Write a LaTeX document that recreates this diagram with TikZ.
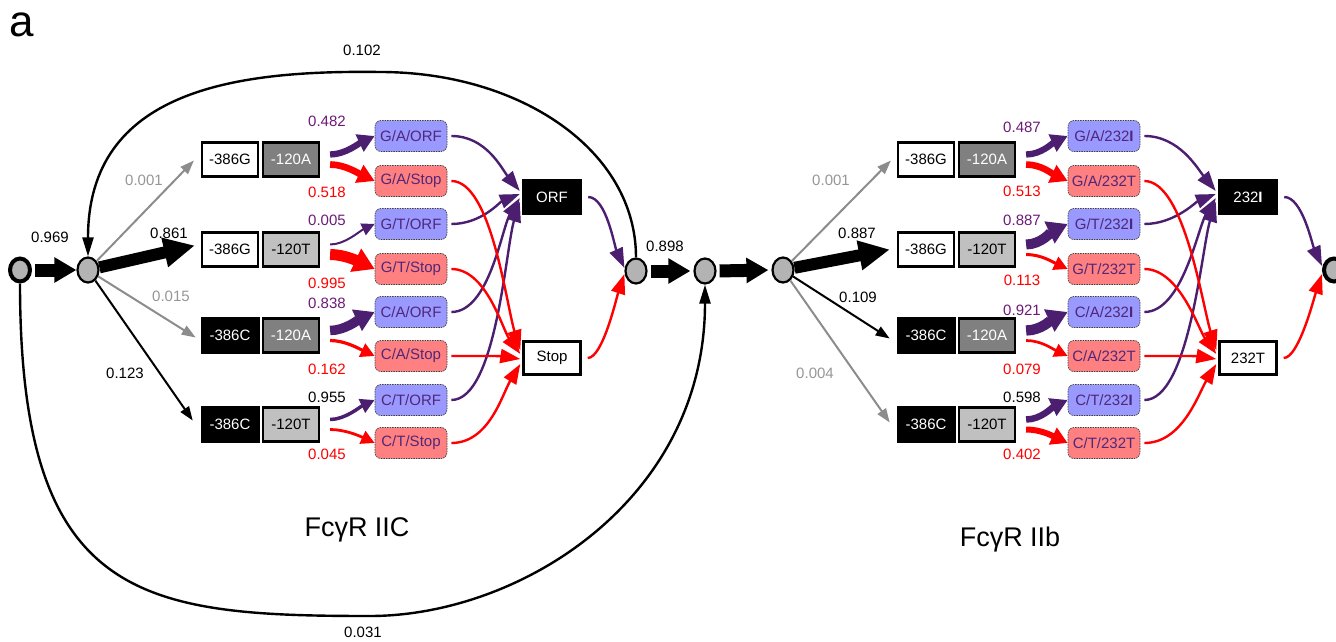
\documentclass[tikz,border=0pt]{standalone}
\usepackage{fontspec}
\setmainfont{Liberation Sans}
\usetikzlibrary{arrows.meta,shapes.geometric,calc}
\definecolor{dpurple}{RGB}{76,30,112}
\definecolor{lpurple}{RGB}{110,25,120}
\definecolor{tpurple}{RGB}{80,40,120}
\definecolor{orfblue}{RGB}{153,153,255}
\definecolor{stopred}{RGB}{255,128,128}
\definecolor{arrgrey}{RGB}{140,140,140}
\definecolor{txtgrey}{RGB}{150,150,150}
\definecolor{dgrey}{RGB}{128,128,128}
\definecolor{lgrey}{RGB}{192,192,192}
\definecolor{nodegrey}{RGB}{179,179,179}
\newcommand{\fs}{\fontsize{15}{17}\selectfont}
\begin{document}
\begin{tikzpicture}[x=1pt,y=-1pt,
  every node/.style={font=\fs, inner sep=0pt},
  gbase/.style={draw=black, line width=2.2pt, minimum width=56pt, minimum height=34pt},
  gw/.style={gbase, fill=white, text=black},
  gk/.style={draw=black, line width=0.6pt, fill=black, text=white, minimum width=58pt, minimum height=36pt},
  gd/.style={gbase, fill=dgrey, text=white},
  gl/.style={gbase, fill=lgrey, text=black},
  ibase/.style={draw=black!75, line width=0.7pt, dash pattern=on 1.5pt off 1pt, rounded corners=6pt, minimum width=72pt, minimum height=31pt, text=tpurple},
  iorf/.style={ibase, fill=orfblue},
  istop/.style={ibase, fill=stopred},
  okbox/.style={fill=black, text=white, minimum width=60pt, minimum height=36pt},
  owbox/.style={draw=black, line width=2.4pt, fill=white, minimum width=57pt, minimum height=33pt},
  state/.style={ellipse, draw=black, line width=2.2pt, fill=nodegrey, minimum width=21pt, minimum height=25pt},
  endstate/.style={ellipse, draw=black, line width=4pt, fill=nodegrey, minimum width=20pt, minimum height=23pt},
  bigarr/.style={line width=13pt, -{Triangle[length=22pt,width=24pt]}},
  bigarrb/.style={line width=12pt, -{Triangle[length=31pt,width=28pt]}},
  thinarr/.style={line width=2pt, -{Triangle[length=14pt,width=10pt]}},
  arcarr/.style={line width=2.4pt, black, -{Triangle[length=19pt,width=11pt]}},
  parr/.style={line width=#1, -{Triangle[length=11pt 0.9,width=10pt 1.3]}},
  fanp/.style={line width=2.4pt, dpurple, -{Triangle[length=20pt,width=14pt]}},
  fanr/.style={line width=2.4pt, red, -{Triangle[length=20pt,width=14pt]}},
  plab/.style={text=lpurple},
  rlab/.style={text=red},
  glab/.style={text=txtgrey}
]
\useasboundingbox (0,0) rectangle (1336,642);

% ---------- left panel nodes ----------
\node[font=\fontsize{44}{48}\selectfont] (alabel) at (22,25) {a};
\node[endstate] (s0) at (20,270) {};
\node[state] (n1) at (88,270) {};
\node[gw] (g1a) at (230,159.5) {-386G};
\node[gd] (g1b) at (291,159.5) {-120A};
\node[gw] (g2a) at (230,249.5) {-386G};
\node[gl] (g2b) at (291,249.5) {-120T};
\node[gk] (g3a) at (230,335.5) {-386C};
\node[gd] (g3b) at (291,335.5) {-120A};
\node[gk] (g4a) at (230,424.5) {-386C};
\node[gl] (g4b) at (291,424.5) {-120T};
\node[iorf] (i1) at (411,136) {G/A/ORF};
\node[istop] (i2) at (411,181) {G/A/Stop};
\node[iorf] (i3) at (411,224) {G/T/ORF};
\node[istop] (i4) at (411,269) {G/T/Stop};
\node[iorf] (i5) at (411,312) {C/A/ORF};
\node[istop] (i6) at (411,356) {C/A/Stop};
\node[iorf] (i7) at (411,400) {C/T/ORF};
\node[istop] (i8) at (411,443) {C/T/Stop};
\node[okbox] (orf) at (552,197) {ORF};
\node[owbox] (stop) at (552,358) {Stop};
\node[state] (n2) at (636,271) {};
\node[state] (n3) at (705,271) {};
\node[font=\fontsize{27}{30}\selectfont] (t1) at (357,530) {FcγR IIC};

% ---------- right panel nodes ----------
\node[state] (n4) at (783,270) {};
\node[gw] (r1a) at (926,159.5) {-386G};
\node[gd] (r1b) at (987,159.5) {-120A};
\node[gw] (r2a) at (926,249.5) {-386G};
\node[gl] (r2b) at (987,249.5) {-120T};
\node[gk] (r3a) at (926,335.5) {-386C};
\node[gd] (r3b) at (987,335.5) {-120A};
\node[gk] (r4a) at (926,424.5) {-386C};
\node[gl] (r4b) at (987,424.5) {-120T};
\node[iorf] (j1) at (1104,136) {G/A/232\textbf{I}};
\node[istop] (j2) at (1104,181) {G/A/232T};
\node[iorf] (j3) at (1104,224) {G/T/232\textbf{I}};
\node[istop] (j4) at (1104,269) {G/T/232T};
\node[iorf] (j5) at (1104,312) {C/A/232\textbf{I}};
\node[istop] (j6) at (1104,356) {C/A/232T};
\node[iorf] (j7) at (1104,400) {C/T/232\textbf{I}};
\node[istop] (j8) at (1104,443) {C/T/232T};
\node[okbox] (oi) at (1248,197) {232\textbf{I}};
\node[owbox] (ot) at (1248,358) {232T};
\node[endstate] (fin) at (1334,270) {};
\node[font=\fontsize{27}{30}\selectfont] (t2) at (1010,540) {FcγR IIb};

% ---------- labels ----------
\node (l969) at (50,237) {0.969};
\node[glab] (l001) at (144,180) {0.001};
\node (l861) at (169,233) {0.861};
\node[glab] (l015) at (171,296) {0.015};
\node (l123) at (125,373) {0.123};
\node (l102) at (362,50) {0.102};
\node (l031) at (363,632) {0.031};
\node (l898) at (665,246) {0.898};
\node[plab] (a1) at (327,121) {0.482};
\node[rlab] (a2) at (327,192) {0.518};
\node[plab] (a3) at (327,220) {0.005};
\node[rlab] (a4) at (327,283) {0.995};
\node[plab] (a5) at (327,303) {0.838};
\node[rlab] (a6) at (327,369) {0.162};
\node (a7) at (327,397) {0.955};
\node[rlab] (a8) at (327,454) {0.045};
\node[glab] (m001) at (831,180) {0.001};
\node (m887) at (857,233) {0.887};
\node (m109) at (858,297) {0.109};
\node[glab] (m004) at (815,373) {0.004};
\node[plab] (b1) at (1022,127) {0.487};
\node[rlab] (b2) at (1022,191) {0.513};
\node[plab] (b3) at (1022,220) {0.887};
\node[rlab] (b4) at (1022,280) {0.113};
\node[plab] (b5) at (1022,310) {0.921};
\node[rlab] (b6) at (1022,369) {0.079};
\node (b7) at (1022,397) {0.598};
\node[rlab] (b8) at (1022,454) {0.402};

% ---------- big loops ----------
\coordinate (topapex) at (380,72);
\coordinate (botapex) at (370,616);
\draw[arcarr] (n2.north) .. controls (636,150) and (520,72) .. (topapex) .. controls (235,70) and (88,90) .. (n1.north);
\draw[arcarr] (s0.south) .. controls (20,600) and (140,616) .. (botapex) .. controls (520,616) and (705,500) .. (n3.south);

% ---------- left arrows ----------
\draw[bigarr, shorten <=3pt] (s0.east) -- (n1.west);
\draw[thinarr, arrgrey] (n1) -- ($(g1a.west)+(-7,1)$);
\draw[bigarrb] (n1) -- ($(g2a.west)+(-6,-4)$);
\draw[thinarr, arrgrey] (n1) -- ($(g3a.west)+(-5,2)$);
\draw[thinarr, black] (n1) -- ($(g4a.west)+(-8,-4)$);

\draw[parr=6.3pt, dpurple] ($(g1b.east)+(10,-5)$) .. controls +(15,0) and +(-15,7) .. (i1.west);
\draw[parr=6.7pt, red] ($(g1b.east)+(10,5)$) .. controls +(15,0) and +(-15,-7) .. (i2.west);
\draw[parr=2pt, dpurple] ($(g2b.east)+(10,-5)$) .. controls +(15,0) and +(-15,7) .. (i3.west);
\draw[parr=11pt, red] ($(g2b.east)+(10,5)$) .. controls +(15,0) and +(-15,-7) .. (i4.west);
\draw[parr=9.5pt, dpurple] ($(g3b.east)+(10,-5)$) .. controls +(15,0) and +(-15,7) .. (i5.west);
\draw[parr=3.2pt, red] ($(g3b.east)+(10,5)$) .. controls +(15,0) and +(-15,-7) .. (i6.west);
\draw[parr=3.5pt, dpurple] ($(g4b.east)+(10,-5)$) .. controls +(15,0) and +(-15,7) .. (i7.west);
\draw[parr=2.8pt, red] ($(g4b.east)+(10,5)$) .. controls +(15,0) and +(-15,-7) .. (i8.west);

\draw[fanp] ($(i1.east)+(4,0)$) .. controls +(35,0) and +(-18,-22) .. ($(orf.west)+(-2,-6)$);
\draw[fanp] ($(i3.east)+(4,0)$) .. controls +(30,0) and +(-20,8) .. ($(orf.west)+(-2,-3)$);
\draw[fanp] ($(i5.east)+(4,0)$) .. controls +(38,0) and +(-18,30) .. ($(orf.west)+(-2,1)$);
\draw[fanp] ($(i7.east)+(4,0)$) .. controls +(45,0) and +(-14,45) .. ($(orf.west)+(-2,5)$);
\draw[fanr] ($(i2.east)+(4,0)$) .. controls +(40,0) and +(-14,-45) .. ($(stop.west)+(-2,-8)$);
\draw[fanr] ($(i4.east)+(4,0)$) .. controls +(35,0) and +(-18,-25) .. ($(stop.west)+(-2,-4)$);
\draw[fanr] ($(i6.east)+(4,0)$) .. controls +(30,0) and +(-20,-3) .. ($(stop.west)+(-2,1)$);
\draw[fanr] ($(i8.east)+(4,0)$) .. controls +(38,0) and +(-18,30) .. ($(stop.west)+(-2,6)$);

\draw[fanp] ($(orf.east)+(6,0)$) .. controls +(18,0) and +(-10,-22) .. ($(n2.west)+(0,-3)$);
\draw[fanr] ($(stop.east)+(6,0)$) .. controls +(15,0) and +(-8,24) .. ($(n2.west)+(0,3)$);

\draw[bigarr, shorten <=3pt, shorten >=3pt] (n2.east) -- (n3.west);
\draw[bigarr, shorten <=3pt, shorten >=3pt] (n3.east) -- (n4.west);

% ---------- right arrows ----------
\draw[thinarr, arrgrey] (n4) -- ($(r1a.west)+(-6,1)$);
\draw[bigarrb] (n4) -- ($(r2a.west)+(-7,0)$);
\draw[thinarr, black] (n4) -- ($(r3a.west)+(-7,3)$);
\draw[thinarr, arrgrey] (n4) -- ($(r4a.west)+(-7,-2)$);

\draw[parr=6.3pt, dpurple] ($(r1b.east)+(10,-5)$) .. controls +(15,0) and +(-15,7) .. (j1.west);
\draw[parr=6.6pt, red] ($(r1b.east)+(10,5)$) .. controls +(15,0) and +(-15,-7) .. (j2.west);
\draw[parr=10pt, dpurple] ($(r2b.east)+(10,-5)$) .. controls +(15,0) and +(-15,7) .. (j3.west);
\draw[parr=3pt, red] ($(r2b.east)+(10,5)$) .. controls +(15,0) and +(-15,-7) .. (j4.west);
\draw[parr=10.3pt, dpurple] ($(r3b.east)+(10,-5)$) .. controls +(15,0) and +(-15,7) .. (j5.west);
\draw[parr=2.7pt, red] ($(r3b.east)+(10,5)$) .. controls +(15,0) and +(-15,-7) .. (j6.west);
\draw[parr=6.5pt, dpurple] ($(r4b.east)+(10,-5)$) .. controls +(15,0) and +(-15,7) .. (j7.west);
\draw[parr=6pt, red] ($(r4b.east)+(10,5)$) .. controls +(15,0) and +(-15,-7) .. (j8.west);

\draw[fanp] ($(j1.east)+(4,0)$) .. controls +(35,0) and +(-18,-22) .. ($(oi.west)+(-2,-6)$);
\draw[fanp] ($(j3.east)+(4,0)$) .. controls +(30,0) and +(-20,8) .. ($(oi.west)+(-2,-3)$);
\draw[fanp] ($(j5.east)+(4,0)$) .. controls +(38,0) and +(-18,30) .. ($(oi.west)+(-2,1)$);
\draw[fanp] ($(j7.east)+(4,0)$) .. controls +(45,0) and +(-14,45) .. ($(oi.west)+(-2,5)$);
\draw[fanr] ($(j2.east)+(4,0)$) .. controls +(40,0) and +(-14,-45) .. ($(ot.west)+(-2,-8)$);
\draw[fanr] ($(j4.east)+(4,0)$) .. controls +(35,0) and +(-18,-25) .. ($(ot.west)+(-2,-4)$);
\draw[fanr] ($(j6.east)+(4,0)$) .. controls +(30,0) and +(-20,-3) .. ($(ot.west)+(-2,1)$);
\draw[fanr] ($(j8.east)+(4,0)$) .. controls +(38,0) and +(-18,30) .. ($(ot.west)+(-2,6)$);

\draw[fanp] ($(oi.east)+(6,0)$) .. controls +(18,0) and +(-10,-22) .. ($(fin.west)+(0,-4)$);
\draw[fanr] ($(ot.east)+(6,0)$) .. controls +(15,0) and +(-8,24) .. ($(fin.west)+(0,4)$);
\end{tikzpicture}
\end{document}
